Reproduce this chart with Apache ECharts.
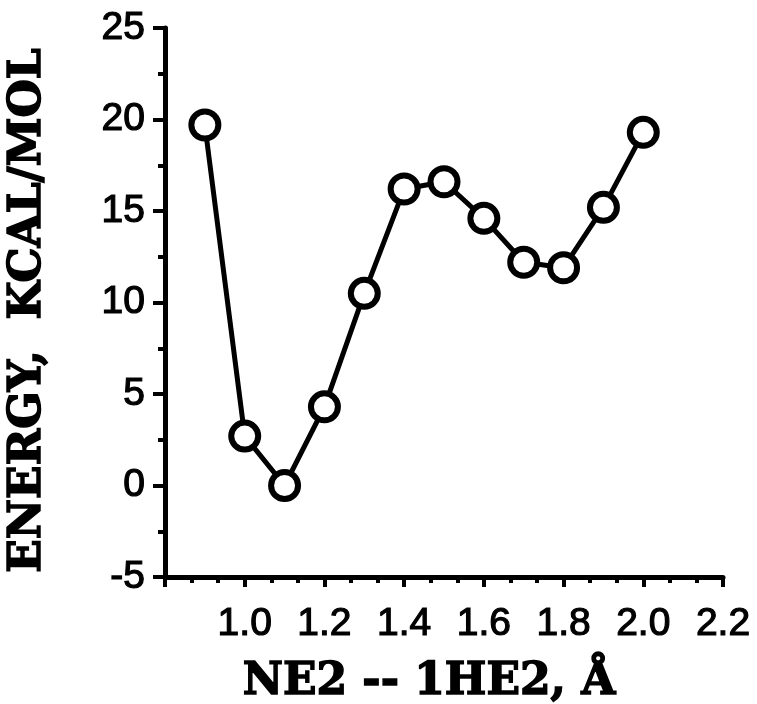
<!DOCTYPE html>
<html>
<head>
<meta charset="utf-8">
<script src="https://cdn.jsdelivr.net/npm/echarts@6/dist/echarts.min.js"></script>
<style>
html,body{margin:0;padding:0;background:#fff;}
#chart{width:757px;height:704px;}
</style>
</head>
<body>
<div id="chart"></div>
<script>
var distances = [0.9, 1.0, 1.1, 1.2, 1.3, 1.4, 1.5, 1.6, 1.7, 1.8, 1.9, 2.0];
var energies = [19.7, 2.7, 0.0, 4.3, 10.5, 16.2, 16.6, 14.6, 12.2, 11.9, 15.2, 19.3];
var xTickLabels = ['1.0', '1.2', '1.4', '1.6', '1.8', '2.0', '2.2'];
var yTickLabels = ['-5', '0', '5', '10', '15', '20', '25'];
var xTitle = 'NE2 -- 1HE2, \u00C5';
var yTitle = 'ENERGY,  KCAL/MOL';

var points = distances.map(function (d, i) { return [d, energies[i]]; });

var chart = echarts.init(document.getElementById('chart'), null, {renderer: 'canvas'});
var labelFont = {color: '#000', fontFamily: 'Liberation Sans', fontSize: 39, fontWeight: 'normal',
  textBorderColor: '#000', textBorderWidth: 1.2};
var titleFont = {color: '#000', fontFamily: 'DejaVu Serif', fontWeight: 'bold', fontSize: 44,
  textBorderColor: '#000', textBorderWidth: 1.5};
chart.setOption({
  animation: false,
  backgroundColor: '#fff',
  grid: {left: 165, right: 34, top: 28, bottom: 127, containLabel: false, outerBoundsMode: 'none'},
  xAxis: {
    type: 'value', min: 0.8, max: 2.2, interval: 0.2,
    name: xTitle, nameLocation: 'middle', nameGap: 84,
    nameTextStyle: Object.assign({padding: [0, 30, 0, 0]}, titleFont),
    axisLine: {show: true, onZero: false, lineStyle: {color: '#000', width: 5}},
    axisTick: {show: true, inside: false, length: 10, lineStyle: {color: '#000', width: 4}},
    minorTick: {show: true, splitNumber: 3, length: 6, lineStyle: {color: '#000', width: 4}},
    splitLine: {show: false},
    axisLabel: Object.assign({margin: 28, formatter: function (v) {
      var s = v.toFixed(1); return xTickLabels.indexOf(s) >= 0 ? s : '';
    }}, labelFont)
  },
  yAxis: {
    type: 'value', min: -5, max: 25, interval: 5,
    name: yTitle, nameLocation: 'middle', nameGap: 114, nameRotate: 90,
    nameTextStyle: Object.assign({padding: [0, 16, 0, 0]}, titleFont),
    axisLine: {show: true, onZero: false, lineStyle: {color: '#000', width: 5}},
    axisTick: {show: true, inside: false, length: 12, lineStyle: {color: '#000', width: 4}},
    minorTick: {show: true, splitNumber: 2, length: 7, lineStyle: {color: '#000', width: 4}},
    splitLine: {show: false},
    axisLabel: Object.assign({margin: 20, formatter: function (v) {
      var s = String(v); return yTickLabels.indexOf(s) >= 0 ? s : '';
    }}, labelFont)
  },
  series: [{
    type: 'line',
    data: points,
    symbol: 'circle',
    symbolSize: 27,
    showAllSymbol: true,
    lineStyle: {color: '#000', width: 5},
    itemStyle: {color: '#fff', borderColor: '#000', borderWidth: 6},
    z: 5
  }]
});
</script>
</body>
</html>
